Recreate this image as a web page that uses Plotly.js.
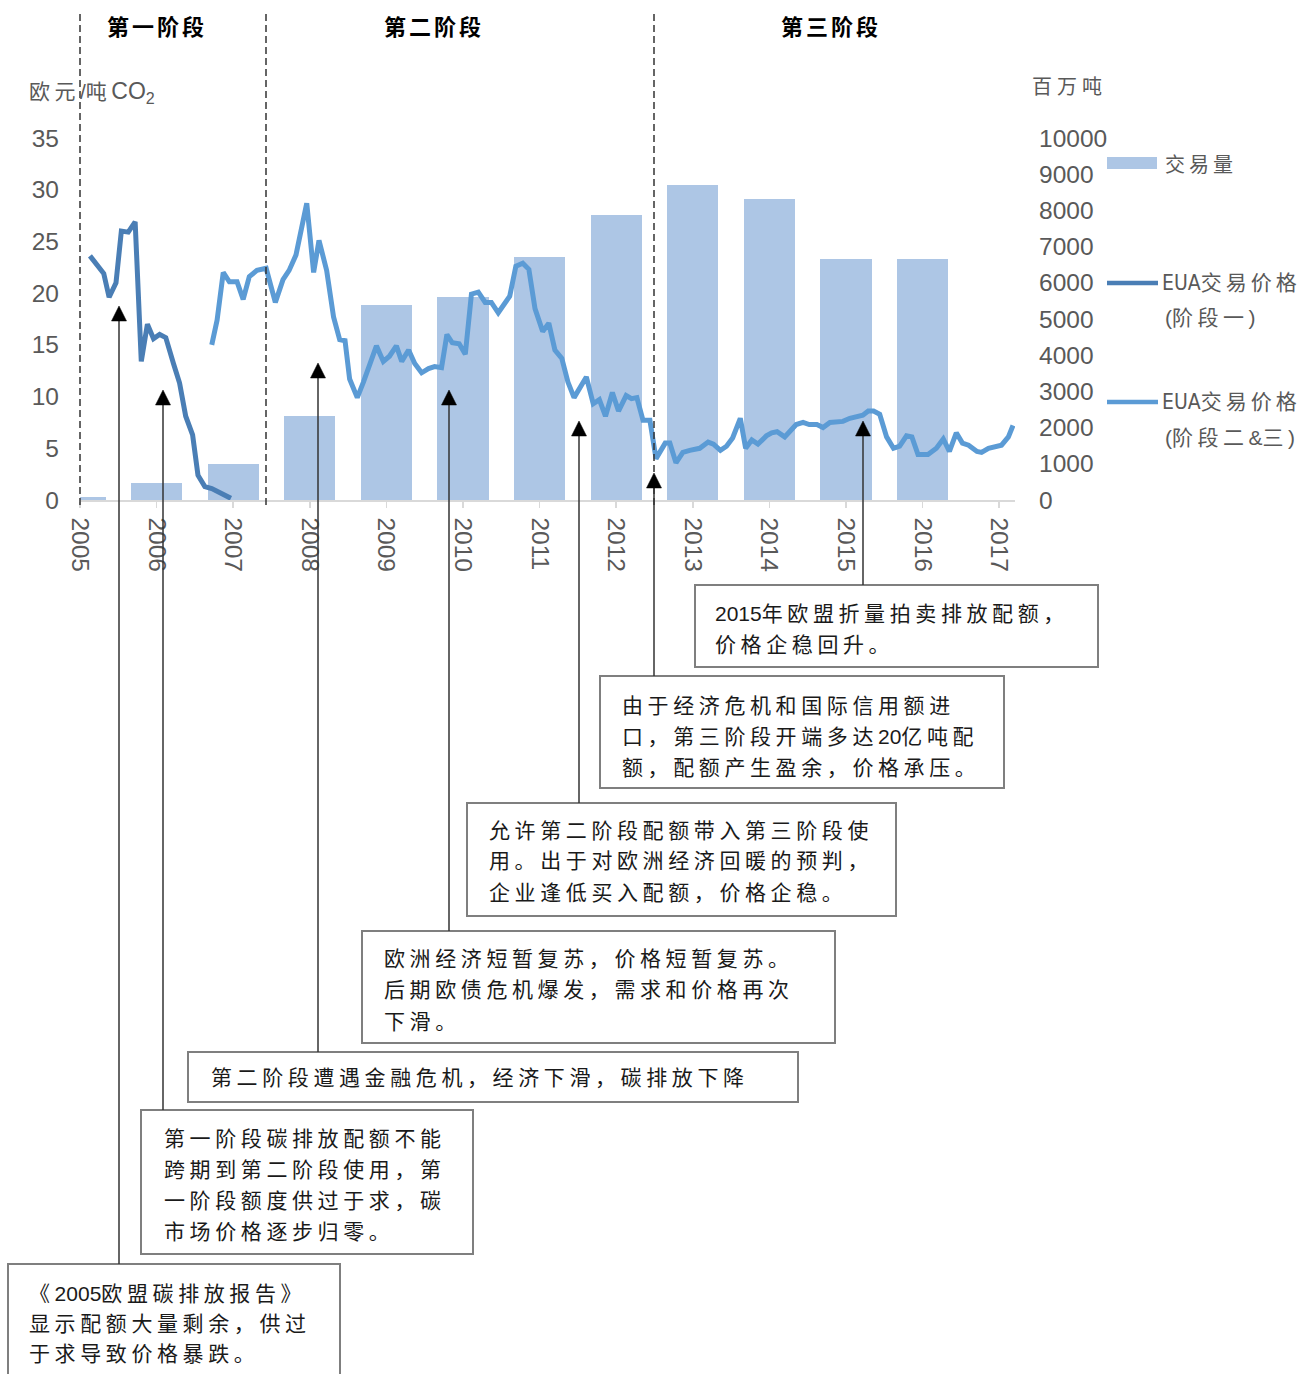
<!DOCTYPE html>
<html>
<head>
<meta charset="utf-8">
<script src="https://cdn.plot.ly/plotly-3.0.1.min.js"></script>
<style>html,body{margin:0;padding:0;background:#fff;}</style>
</head>
<body>
<div id="chart" style="width:1303px;height:1374px;"></div>
<script>
// ---------- DATA ----------
const barYears = [2005, 2006, 2007, 2008, 2009, 2010, 2011, 2012, 2013, 2014, 2015, 2016];
const volume = [75, 460, 995, 2320, 5390, 5615, 6705, 7875, 8700, 8305, 6665, 6665];

const phase1Dates = [2005.13, 2005.26, 2005.31, 2005.38, 2005.47, 2005.54, 2005.63, 2005.72, 2005.80, 2005.88, 2005.96,
  2006.04, 2006.12, 2006.22, 2006.30, 2006.38, 2006.47, 2006.54, 2006.63, 2006.72, 2006.83, 2006.97];
const phase1Price = [23.6, 22.4, 21.9, 19.6, 21.0, 26.0, 25.9, 26.9, 13.4, 17.0, 15.6,
  16.0, 15.7, 13.2, 11.3, 8.1, 6.3, 2.4, 1.3, 1.1, 0.65, 0.16];

const phase23Dates = [2006.72, 2006.79, 2006.87, 2006.95, 2007.05, 2007.13, 2007.21, 2007.31, 2007.43, 2007.55,
  2007.65, 2007.73, 2007.82, 2007.96, 2008.05, 2008.12, 2008.22, 2008.31, 2008.39, 2008.46,
  2008.52, 2008.62, 2008.70, 2008.79, 2008.87, 2008.96, 2009.04, 2009.13, 2009.20, 2009.29,
  2009.37, 2009.46, 2009.55, 2009.63, 2009.72, 2009.79, 2009.86, 2009.95, 2010.03, 2010.11,
  2010.20, 2010.29, 2010.37, 2010.46, 2010.53, 2010.61, 2010.69, 2010.78, 2010.86, 2010.94,
  2011.04, 2011.12, 2011.20, 2011.29, 2011.37, 2011.45, 2011.61, 2011.70, 2011.78, 2011.86,
  2011.95, 2012.03, 2012.13, 2012.20, 2012.27, 2012.35, 2012.44, 2012.52, 2012.64, 2012.70,
  2012.78, 2012.87, 2012.96, 2013.09, 2013.20, 2013.27, 2013.36, 2013.44, 2013.52, 2013.62,
  2013.69, 2013.77, 2013.85, 2013.96, 2014.03, 2014.10, 2014.20, 2014.35, 2014.44, 2014.52,
  2014.62, 2014.70, 2014.79, 2014.88, 2014.96, 2015.05, 2015.14, 2015.22, 2015.29, 2015.36,
  2015.44, 2015.53, 2015.62, 2015.70, 2015.79, 2015.86, 2015.94, 2016.07, 2016.18, 2016.27,
  2016.35, 2016.44, 2016.52, 2016.60, 2016.71, 2016.77, 2016.86, 2016.94, 2017.03, 2017.12, 2017.18];
const phase23Price = [15.0, 17.4, 22.0, 21.1, 21.1, 19.4, 21.6, 22.2, 22.4, 19.1,
  21.3, 22.2, 23.7, 28.7, 22.0, 25.1, 22.2, 17.7, 15.5, 15.4,
  11.7, 9.9, 11.4, 13.2, 14.9, 13.4, 13.9, 14.9, 13.4, 14.5,
  13.2, 12.3, 12.7, 12.9, 12.8, 16.0, 15.2, 15.1, 14.1, 19.9,
  20.1, 19.1, 19.1, 18.1, 18.9, 19.7, 22.6, 22.9, 22.3, 18.5,
  16.3, 17.1, 14.5, 13.7, 11.4, 9.9, 11.9, 9.3, 9.7, 8.1,
  10.4, 8.6, 10.1, 9.8, 9.9, 7.7, 7.7, 4.0, 5.5, 5.5,
  3.6, 4.6, 4.8, 5.0, 5.6, 5.4, 4.8, 5.2, 6.0, 7.9,
  5.0, 5.8, 5.4, 6.2, 6.5, 6.6, 6.1, 7.3, 7.5, 7.3,
  7.3, 7.0, 7.5, 7.5, 7.6, 7.9, 8.1, 8.2, 8.6, 8.6,
  8.3, 6.1, 5.0, 5.2, 6.2, 6.1, 4.4, 4.4, 5.0, 5.9,
  4.7, 6.5, 5.5, 5.3, 4.7, 4.6, 5.0, 5.1, 5.3, 6.1, 7.2];

const tickYears = [2005, 2006, 2007, 2008, 2009, 2010, 2011, 2012, 2013, 2014, 2015, 2016, 2017];
const tickLabels = ['2005', '2006', '2007', '2008', '2009', '2010', '2011', '2012', '2013', '2014', '2015', '2016', '2017'];
const volumeTicks = [0, 1000, 2000, 3000, 4000, 5000, 6000, 7000, 8000, 9000, 10000];
const volumeTickLabels = ['0', '1000', '2000', '3000', '4000', '5000', '6000', '7000', '8000', '9000', '10000'];
const priceTicks = [0, 5, 10, 15, 20, 25, 30, 35];

const phaseTitles = ['第一阶段', '第二阶段', '第三阶段'];
const leftTitleCn = '欧元/吨';
const leftTitleUnit = 'CO<sub>2</sub>';
const rightTitle = '百万吨';
const legendVolume = '交易量';
const legendPhase1 = ['交易价格', '(阶段一)'];
const legendPhase23 = ['交易价格', '(阶段二&amp;三)'];
const legendPrefix = 'EUA';

const noteA = ['2015年欧盟折量拍卖排放配额，', '价格企稳回升。'];
const noteB = ['由于经济危机和国际信用额进', '口，第三阶段开端多达20亿吨配', '额，配额产生盈余，价格承压。'];
const noteC = ['允许第二阶段配额带入第三阶段使', '用。出于对欧洲经济回暖的预判，', '企业逢低买入配额，价格企稳。'];
const noteD = ['欧洲经济短暂复苏，价格短暂复苏。', '后期欧债危机爆发，需求和价格再次', '下滑。'];
const noteE = ['第二阶段遭遇金融危机，经济下滑，碳排放下降'];
const noteF = ['第一阶段碳排放配额不能', '跨期到第二阶段使用，第', '一阶段额度供过于求，碳', '市场价格逐步归零。'];
const noteG = ['《2005欧盟碳排放报告》', '显示配额大量剩余，供过', '于求导致价格暴跌。'];

// ---------- LAYOUT HELPERS (pixel -> paper) ----------
const PL = 80, PR = 1015, PT = 138, PB = 500;
const px = x => (x - PL) / (PR - PL);
const py = y => (PB - y) / (PB - PT);
const FONT = 'Liberation Sans, Noto Sans CJK SC, sans-serif';
const GRAY = '#595959';
function cjk(s, gap) {
  return s.replace(/([\u2E80-\uFFFF]+)/g, m => '<span style="letter-spacing:' + gap + 'px">' + m + '</span>');
}

const shapes = [];
const annotations = [];
function textAt(x, y, text, opts) {
  annotations.push(Object.assign({
    xref: 'paper', yref: 'paper', x: px(x), y: py(y), xanchor: 'left', yanchor: 'middle',
    showarrow: false, borderpad: 0, text: text,
    font: {family: FONT, size: 21, color: '#1a1a1a'}
  }, opts || {}));
}

// phase divider dashed lines
[80, 266, 654].forEach(x => shapes.push({
  type: 'line', xref: 'paper', yref: 'paper', x0: px(x), x1: px(x), y0: py(14), y1: py(508),
  line: {color: '#333', width: 1.5, dash: '7px,4px'}
}));

// phase titles
[157, 434, 831].forEach((x, i) => textAt(x, 25, '<b>' + cjk(phaseTitles[i], 3) + '</b>', {
  xanchor: 'center', font: {family: 'Noto Sans CJK SC', size: 22, color: '#000'}
}));

// axis titles
textAt(28, 93, cjk(leftTitleCn, 4.5) + '<span style="font-size:23px">' + leftTitleUnit + '</span>',
  {font: {family: FONT, size: 21, color: GRAY}});
textAt(1031, 87, cjk(rightTitle, 5), {font: {family: FONT, size: 20, color: GRAY}});

// custom legend
shapes.push({type: 'rect', xref: 'paper', yref: 'paper', x0: px(1107), x1: px(1157), y0: py(157), y1: py(169),
  fillcolor: '#adc6e5', line: {width: 0}});
shapes.push({type: 'line', xref: 'paper', yref: 'paper', x0: px(1107), x1: px(1158), y0: py(283), y1: py(283),
  line: {color: '#4a7eb5', width: 4.5}});
shapes.push({type: 'line', xref: 'paper', yref: 'paper', x0: px(1107), x1: px(1158), y0: py(402), y1: py(402),
  line: {color: '#5b9bd5', width: 4.5}});
const legFont = {family: FONT, size: 21, color: GRAY};
const narrow = '<span style="font-family:\'Liberation Sans Narrow\',\'Arial Narrow\',\'DejaVu Sans Condensed\',\'Liberation Sans\';font-size:21px">' + legendPrefix + '</span>';
textAt(1164, 165, cjk(legendVolume, 4), {font: {family: FONT, size: 20, color: GRAY}});
textAt(1161, 283, narrow + cjk(legendPhase1[0], 4), {font: legFont});
textAt(1164, 317, cjk(legendPhase1[1], 4.5), {font: legFont});
textAt(1161, 402, narrow + cjk(legendPhase23[0], 4), {font: legFont});
textAt(1164, 437, cjk(legendPhase23[1], 4.5), {font: legFont});

// annotation boxes with arrows
const boxes = [
  {lines: noteA, x0: 695, y0: 585, x1: 1098, y1: 667, tx: 714, ty: [613, 644], ax: 863, tip: 421},
  {lines: noteB, x0: 600, y0: 676, x1: 1004, y1: 788, tx: 621, ty: [705, 736, 767], ax: 654, tip: 473},
  {lines: noteC, x0: 467, y0: 803, x1: 896, y1: 916, tx: 488, ty: [830, 861, 892], ax: 579, tip: 421},
  {lines: noteD, x0: 362, y0: 931, x1: 835, y1: 1043, tx: 383, ty: [958, 989, 1021], ax: 449, tip: 390},
  {lines: noteE, x0: 188, y0: 1052, x1: 798, y1: 1102, tx: 210, ty: [1077], ax: 318, tip: 363},
  {lines: noteF, x0: 141, y0: 1110, x1: 473, y1: 1254, tx: 163, ty: [1138, 1169, 1200, 1231], ax: 163, tip: 390},
  {lines: noteG, x0: 8, y0: 1264, x1: 340, y1: 1384, tx: 28, ty: [1293, 1323, 1353], ax: 119, tip: 306}
];
boxes.forEach(b => {
  shapes.push({type: 'rect', xref: 'paper', yref: 'paper', x0: px(b.x0), x1: px(b.x1), y0: py(b.y0), y1: py(b.y1),
    fillcolor: '#fff', line: {color: '#7f7f7f', width: 2}});
  shapes.push({type: 'line', xref: 'paper', yref: 'paper', x0: px(b.ax), x1: px(b.ax), y0: py(b.y0), y1: py(b.tip + 12),
    line: {color: '#333', width: 1.5}});
  shapes.push({type: 'path', xref: 'paper', yref: 'paper',
    path: 'M' + px(b.ax) + ',' + py(b.tip) + ' L' + px(b.ax - 7.5) + ',' + py(b.tip + 15) +
      ' L' + px(b.ax + 7.5) + ',' + py(b.tip + 15) + ' Z',
    fillcolor: '#000', line: {color: '#000', width: 0.5}});
  b.lines.forEach((ln, i) => textAt(b.tx, b.ty[i], cjk(ln, 4.6)));
});

// ---------- TRACES ----------
const traces = [
  {type: 'bar', x: barYears, y: volume, yaxis: 'y', width: 0.666,
    marker: {color: '#adc6e5', line: {width: 0}}, name: '交易量', hoverinfo: 'skip'},
  {type: 'scatter', mode: 'lines', x: phase1Dates, y: phase1Price, yaxis: 'y2',
    line: {color: '#4a7eb5', width: 5}, name: 'EUA交易价格(阶段一)', hoverinfo: 'skip'},
  {type: 'scatter', mode: 'lines', x: phase23Dates, y: phase23Price, yaxis: 'y2',
    line: {color: '#5b9bd5', width: 5}, name: 'EUA交易价格(阶段二&三)', hoverinfo: 'skip'}
];

const tickFont = {family: 'Liberation Sans, Arial, sans-serif', size: 24.5, color: GRAY};
const layout = {
  width: 1303, height: 1374,
  margin: {l: PL, r: 1303 - PR, t: PT, b: 1374 - PB, pad: 0},
  paper_bgcolor: '#fff', plot_bgcolor: '#fff',
  showlegend: false,
  font: {family: FONT, color: GRAY},
  bargap: 0,
  xaxis: {
    type: 'linear', range: [2005, 2005 + (PR - PL) / 76.6], tickmode: 'array',
    tickvals: tickYears, ticktext: tickLabels, tickangle: 90, tickfont: tickFont,
    showgrid: false, zeroline: false, showline: true, linecolor: '#d9d9d9', linewidth: 1.5,
    ticks: 'outside', ticklen: 6, tickcolor: '#d9d9d9', tickwidth: 1.5, ticklabelstandoff: 5, fixedrange: true
  },
  yaxis: {
    side: 'right', range: [0, 10000], tickmode: 'array', tickvals: volumeTicks, ticktext: volumeTickLabels,
    tickfont: tickFont, showgrid: false, zeroline: false, showline: false, ticks: '', ticklabelstandoff: 23, fixedrange: true
  },
  yaxis2: {
    overlaying: 'y', side: 'left', range: [0, 35], tickmode: 'array', tickvals: priceTicks, tickfont: tickFont,
    showgrid: false, zeroline: false, showline: false, ticks: '', ticklabelstandoff: 20, fixedrange: true
  },
  shapes: shapes,
  annotations: annotations
};

Plotly.newPlot('chart', traces, layout, {displayModeBar: false, staticPlot: true});
</script>
</body>
</html>
